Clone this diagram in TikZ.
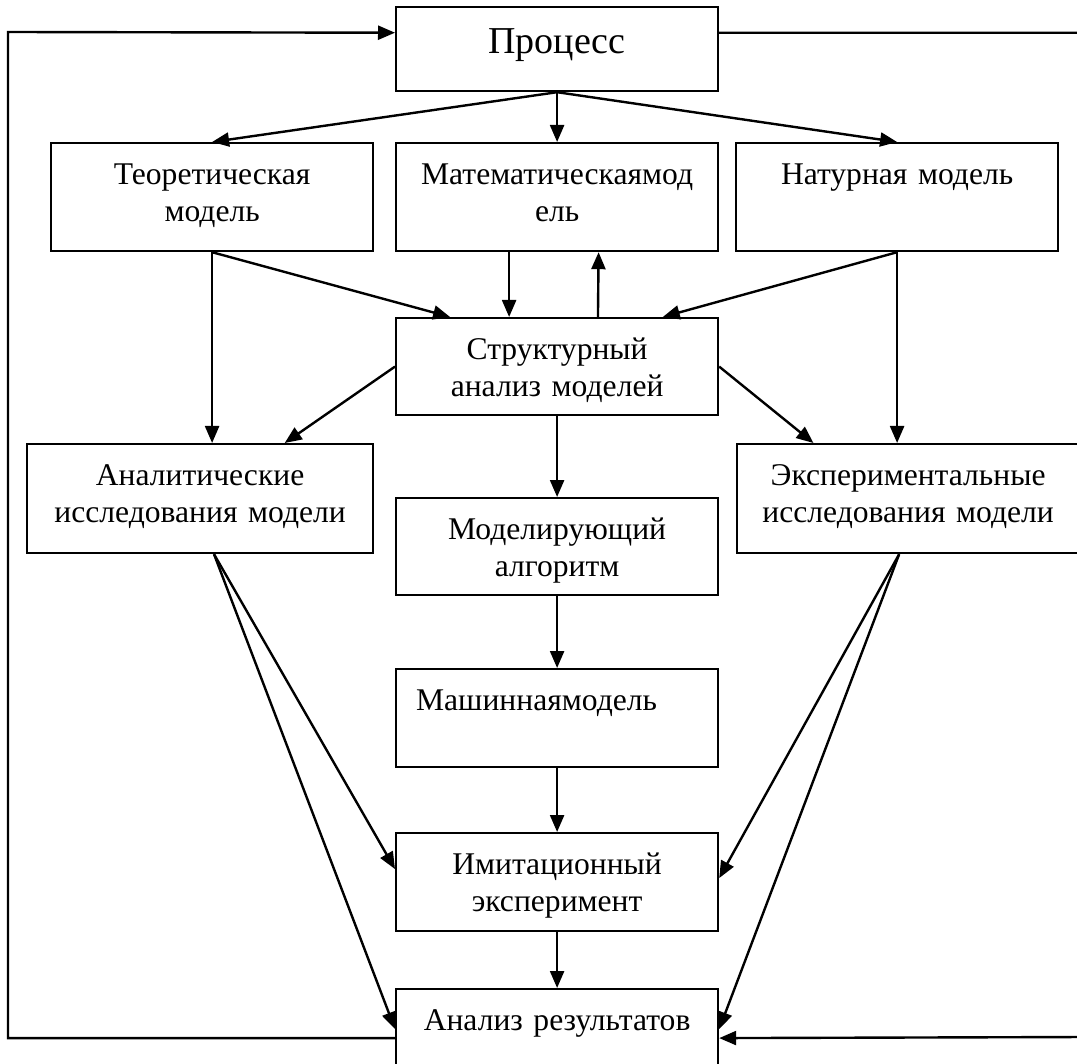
\documentclass[tikz,border=0pt]{standalone}
\usepackage{fontspec}
\setmainfont{Liberation Serif}
\usetikzlibrary{arrows.meta,calc}
\newcommand\boxfont{\fontsize{15.8}{18.5}\selectfont}
\newcommand\procfont{\fontsize{19}{23}\selectfont}
\tikzset{
  box/.style={draw=black,line width=1.1pt,inner sep=0pt,align=center,text height=20.5pt,anchor=north west,font=\boxfont},
  ar/.style={-{Triangle[length=8.5pt,width=7pt]},draw=black,line width=1.2pt},
}
\begin{document}
\begin{tikzpicture}[x=0.5pt,y=-0.5pt]
  \useasboundingbox (0,0) rectangle (1077,1064);
  % boxes
  \node[box,text width=161pt,text depth=19pt,text height=23pt,font=\procfont] (proc) at (395,6) {Процесс};
  \node[box,text width=161pt,text depth=33.5pt] (teor) at (50,142) {Теоретическая\\модель};
  \node[box,text width=161pt,text depth=33.5pt] (math) at (395,142) {Математическаямод\\ель};
  \node[box,text width=161pt,text depth=33.5pt] (nat) at (735,142) {Натурная модель};
  \node[box,text width=161pt,text depth=28pt] (struct) at (395,317) {Структурный\\анализ моделей};
  \node[box,text width=173pt,text depth=34pt] (anal) at (26,443) {Аналитические\\исследования модели};
  \node[box,text width=171pt,text depth=34pt] (eksp) at (736,443) {Экспериментальные\\исследования модели};
  \node[box,text width=161pt,text depth=28pt] (algo) at (395,497) {Моделирующий\\алгоритм};
  \node[box,text width=141pt,inner xsep=10pt,align=left,text depth=28.5pt] (mash) at (395,668) {Машиннаямодель};
  \node[box,text width=161pt,text depth=28.5pt] (imit) at (395,832) {Имитационный\\эксперимент};
  \node[box,text width=161pt,text depth=28.5pt] (res) at (395,988) {Анализ результатов};

  % points on the edges
  \coordinate (pin) at ($(proc.north west)!0.31!(proc.south west)$);
  \coordinate (pout) at ($(proc.north east)!0.31!(proc.south east)$);
  \coordinate (ab) at ($(anal.south west)!0.54!(anal.south east)$);
  \coordinate (eb) at ($(eksp.south west)!0.474!(eksp.south east)$);

  \draw[ar] (proc.south) -- (teor.north);
  \draw[ar] (proc.south) -- (proc.south |- math.north);
  \draw[ar] (proc.south) -- (nat.north);
  \draw[ar] (teor.south) -- (teor.south |- anal.north);
  \draw[ar] (teor.south) -- ($(struct.north west)!0.17!(struct.north east)$);
  \draw[ar] ($(math.south west)!0.352!(math.south east)$) -- ($(struct.north west)!0.352!(struct.north east)$);
  \draw[ar] ($(struct.north west)!0.626!(struct.north east)$) -- ($(math.south west)!0.628!(math.south east)$);
  \draw[ar] (nat.south) -- ($(struct.north west)!0.826!(struct.north east)$);
  \draw[ar] (nat.south) -- (nat.south |- eksp.north);
  \draw[ar] (struct.west) -- ($(anal.north west)!0.743!(anal.north east)$);
  \draw[ar] (struct.east) -- ($(eksp.north west)!0.225!(eksp.north east)$);
  \draw[ar] (struct.south) -- (algo.north);
  \draw[ar] (algo.south) -- (mash.north);
  \draw[ar] (mash.south) -- (imit.north);
  \draw[ar] (imit.south) -- (res.north);
  \draw[ar] (ab) -- ($(imit.north west)!0.37!(imit.south west)$);
  \draw[ar] (ab) -- ($(res.north west)!0.41!(res.south west)$);
  \draw[ar] (eb) -- ($(imit.north east)!0.46!(imit.south east)$);
  \draw[ar] (eb) -- ($(res.north east)!0.41!(res.south east)$);

  % feedback loops
  \draw[ar] (res.west) -| (8,32) -- (pin);
  \draw[ar] (pout) -| (1086,1037) -- (res.east);
\end{tikzpicture}
\end{document}
